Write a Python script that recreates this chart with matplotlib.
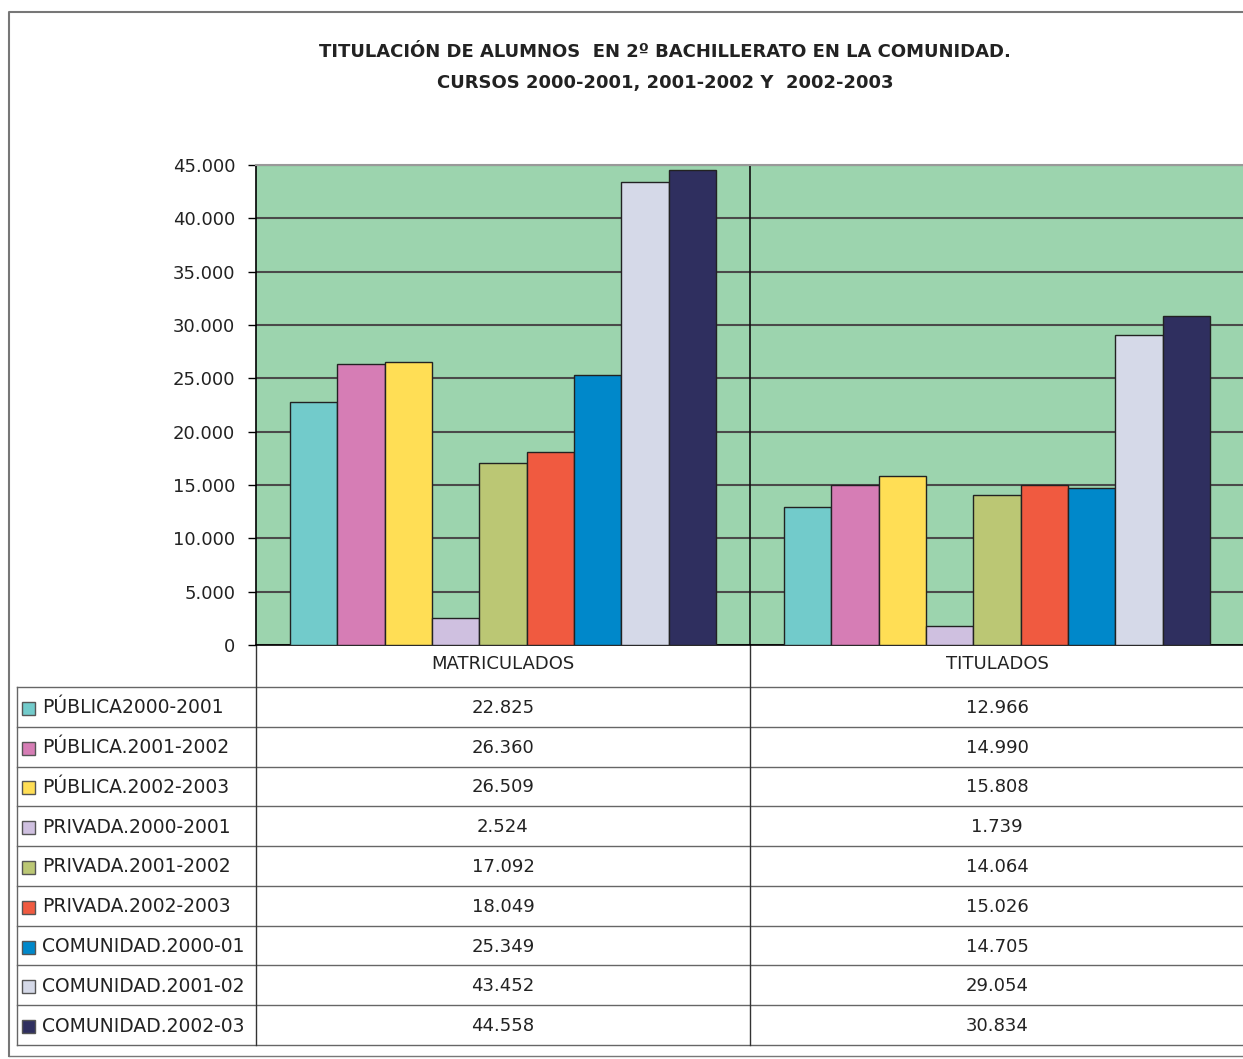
import numpy as np
import matplotlib
matplotlib.use("Agg")
import matplotlib.pyplot as plt
from matplotlib.patches import Rectangle
from matplotlib.transforms import blended_transform_factory

# ---- data ----
categories = ["MATRICULADOS", "TITULADOS"]
series_names = ["PÚBLICA2000-2001", "PÚBLICA.2001-2002", "PÚBLICA.2002-2003",
                "PRIVADA.2000-2001", "PRIVADA.2001-2002", "PRIVADA.2002-2003",
                "COMUNIDAD.2000-01", "COMUNIDAD.2001-02", "COMUNIDAD.2002-03"]
matriculados = [22825, 26360, 26509, 2524, 17092, 18049, 25349, 43452, 44558]
titulados = [12966, 14990, 15808, 1739, 14064, 15026, 14705, 29054, 30834]
colors = ["#72CBCB", "#D67DB5", "#FFDE55", "#CFC0E0", "#BBC774",
          "#F05A40", "#0088CA", "#D5D9E8", "#2F2F5F"]
yticks = [0, 5000, 10000, 15000, 20000, 25000, 30000, 35000, 40000, 45000]
title_lines = ["TITULACIÓN DE ALUMNOS  EN 2º BACHILLERATO EN LA COMUNIDAD.",
               "CURSOS 2000-2001, 2001-2002 Y  2002-2003"]

def fmt(v):
    return f"{v:,}".replace(",", ".")

W, H = 1243, 1059
fig = plt.figure(figsize=(W / 100, H / 100), dpi=100)
fig.patch.set_facecolor("white")

# overlay in pixel coordinates for frame / table
ov = fig.add_axes([0, 0, 1, 1], zorder=0)
ov.set_xlim(0, W)
ov.set_ylim(H, 0)
ov.axis("off")

# main axes
ax_l, ax_t, ax_b = 256, 165, 645
ax = fig.add_axes([ax_l / W, 1 - ax_b / H, (W + 1 - ax_l) / W, (ax_b - ax_t) / H], zorder=2)
ax.set_facecolor("#9CD4AE")
values = np.array([matriculados, titulados])
x = np.arange(len(categories))
n = len(series_names)
bw = 0.0958
for i in range(n):
    ax.bar(x + (i - (n - 1) / 2) * bw, values[:, i], width=bw, color=colors[i],
           edgecolor="#222222", linewidth=1.0, zorder=3)
ax.set_xlim(-0.5, 1.5)
ax.set_ylim(0, 45000)
ax.set_yticks(yticks)
ax.set_yticklabels([fmt(v) for v in yticks], fontsize=13, family="DejaVu Sans",
                   color="#222222")
ax.tick_params(axis="y", direction="out", length=6, width=1, pad=9)
ax.set_xticks([])
ax.yaxis.grid(True, color="#4a4a4a", linewidth=1.5, zorder=1)
ax.set_axisbelow(True)
ax.spines["left"].set_color("black")
ax.spines["left"].set_linewidth(1.2)
ax.spines["top"].set_color("#999999")
ax.spines["top"].set_linewidth(1.5)
ax.spines["right"].set_visible(False)
ax.spines["bottom"].set_color("black")
ax.spines["bottom"].set_linewidth(1.2)
ax.axvline(0.5, color="#111111", linewidth=1.2, zorder=2)

# outer frame
ov.plot([9, 9, W + 5], [1056, 12, 12], color="#777777", linewidth=1.5, clip_on=False)
ov.plot([9, W + 5], [1056, 1056], color="#777777", linewidth=1.0, clip_on=False)

# title
cx = 0.5 * (313 + 1017) / W
fig.text(cx, 1 - 52 / H, title_lines[0], ha="center", va="center",
         fontsize=13, fontweight="bold", family="DejaVu Sans", color="#222222")
fig.text(cx, 1 - 83 / H, title_lines[1], ha="center", va="center",
         fontsize=13, fontweight="bold", family="DejaVu Sans", color="#222222")

# data table
bt = blended_transform_factory(ax.transData, ov.transData)
row_top = 687
row_h = (1045 - 687) / n
line_c = "#666666"
for j, c in enumerate(categories):
    ov.text(x[j], 664, c, transform=bt, ha="center", va="center", fontsize=13,
            family="DejaVu Sans", color="#222222")
for r in range(n + 1):
    yy = row_top + r * row_h
    ov.plot([17, W + 5], [yy, yy], color=line_c, linewidth=1.0, clip_on=False)
ov.plot([17, 17], [row_top, row_top + n * row_h], color=line_c, linewidth=1.0)
ov.plot([ax_l, ax_l], [ax_b, row_top + n * row_h], color="#333333", linewidth=1.0)
ov.plot([0.5, 0.5], [ax_b, row_top + n * row_h], transform=bt, color="#333333", linewidth=1.0)
for i in range(n):
    yc = row_top + (i + 0.5) * row_h
    ov.add_patch(Rectangle((22, yc - 5), 13, 13, facecolor=colors[i], edgecolor="#555555",
                           linewidth=1.0))
    ov.text(42, yc + 1, series_names[i], ha="left", va="center", fontsize=13.5,
            family="DejaVu Sans", color="#222222")
    for j in range(len(categories)):
        ov.text(x[j], yc + 1, fmt(values[j, i]), transform=bt, ha="center", va="center",
                fontsize=13, family="DejaVu Sans", color="#222222")

fig.savefig("out.png", dpi=100, facecolor="white")
